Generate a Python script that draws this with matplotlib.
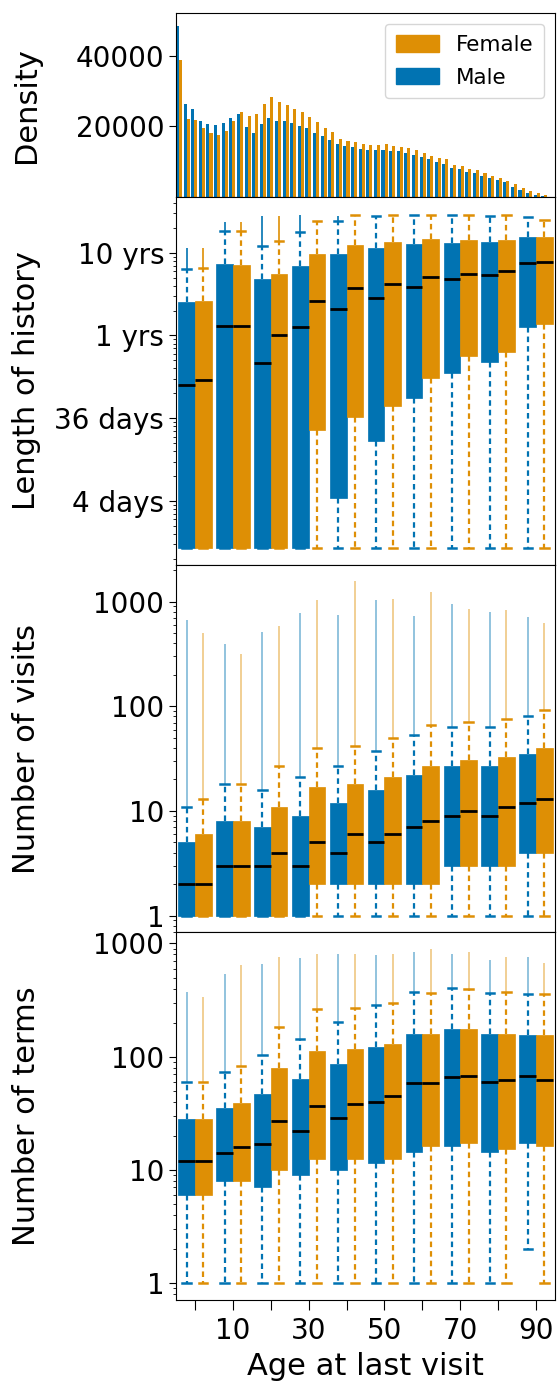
import numpy as np
import matplotlib
matplotlib.use("Agg")
import matplotlib.pyplot as plt
from matplotlib.patches import Patch
from matplotlib.ticker import NullFormatter

BLUE = "#0173b2"
ORANGE = "#de8f05"

# ---- top panel: age histogram (2-year bins) ----
bin_edges = np.arange(0, 101, 2)
male_counts = [48300, 26300, 24950, 21650, 20550, 20350, 21100, 22400, 23600, 19900,
               18150, 20650, 22450, 21550, 21450, 21100, 20250, 19550, 18250, 17250,
               16150, 14950, 14400, 14300, 13550, 13200, 13200, 13200, 13100, 12900,
               12450, 12000, 11250, 10900, 9950, 9500, 8300, 8050, 7150, 6950,
               6050, 5300, 4950, 4200, 2800, 1900, 1150, 500, 200, 0]
female_counts = [38900, 22200, 21800, 19600, 18250, 17700, 18600, 21450, 24000, 22900,
                 23600, 26300, 28250, 26900, 26150, 25050, 24000, 22550, 21200, 19550,
                 18450, 16500, 15850, 15600, 15050, 14750, 14750, 14950, 14550, 14300,
                 13850, 13400, 12450, 11550, 11100, 10650, 9000, 8800, 7900, 7700,
                 6800, 6050, 5400, 4650, 3750, 2650, 1700, 1150, 500, 150]

# ---- age groups for the box plots ----
age_groups = [0, 10, 20, 30, 40, 50, 60, 70, 80, 90]
xtick_labels = ["", "10", "", "30", "", "50", "", "70", "", "90"]

# length of history, in years
hist_m_lo = [0.0027] * 10
hist_m_q1 = [0.0027, 0.0027, 0.0027, 0.0027, 0.0108, 0.053, 0.177, 0.355, 0.48, 1.28]
hist_m_med = [0.25, 1.3, 0.46, 1.26, 2.1, 2.8, 3.9, 4.8, 5.4, 7.5]
hist_m_q3 = [2.57, 7.3, 4.8, 7.0, 9.6, 11.3, 12.8, 13.2, 13.3, 15.5]
hist_m_hi = [6.35, 18.4, 12.1, 17.6, 23.9, 27.9, 28.7, 28.7, 27.9, 26.7]
hist_m_fmax = [11.4, 23.2, 27.9, 28.7, 27.9, np.nan, np.nan, np.nan, np.nan, np.nan]
hist_f_lo = [0.0027] * 10
hist_f_q1 = [0.0027, 0.0027, 0.0027, 0.073, 0.104, 0.141, 0.31, 0.56, 0.64, 1.36]
hist_f_med = [0.29, 1.29, 1.0, 2.64, 3.7, 4.15, 5.1, 5.6, 6.0, 7.65]
hist_f_q3 = [2.64, 7.2, 5.5, 9.6, 12.5, 13.3, 14.8, 14.4, 14.1, 15.5]
hist_f_hi = [6.5, 18.1, 13.7, 23.9, 28.7, 28.7, 28.7, 28.7, 28.7, 25.0]
hist_f_fmax = [11.4, 23.2, 27.9, np.nan, np.nan, np.nan, np.nan, np.nan, np.nan, np.nan]

# number of visits
visit_m_lo = [1] * 10
visit_m_q1 = [1, 1, 1, 1, 2, 2, 2, 3, 3, 4]
visit_m_med = [2, 3, 3, 3, 4, 5, 7, 9, 9, 12]
visit_m_q3 = [5, 8, 7, 9, 12, 16, 22, 27, 27, 35]
visit_m_hi = [11, 18, 16, 21, 27, 37, 53, 63, 63, 81]
visit_m_fmax = [675, 390, 512, 782, 753, 1033, 738, 960, 793, 716]
visit_f_lo = [1] * 10
visit_f_q1 = [1, 1, 1, 2, 2, 2, 2, 3, 3, 4]
visit_f_med = [2, 3, 4, 5, 6, 6, 8, 10, 11, 13]
visit_f_q3 = [6, 8, 11, 17, 18, 21, 27, 31, 33, 40]
visit_f_hi = [13, 18, 27, 40, 42, 50, 66, 71, 76, 92]
visit_f_fmax = [497, 313, 583, 1033, 1566, 1071, 1239, 860, 828, 628]

# number of terms
term_m_lo = [1, 1, 1, 1, 1, 1, 1, 1, 1, 2]
term_m_q1 = [6, 8, 7, 9, 10, 11.6, 14.5, 16.3, 14.5, 17.2]
term_m_med = [12, 14, 17, 22, 29, 40, 58, 66, 60, 67]
term_m_q3 = [28, 35, 47, 64, 87, 123, 159, 174, 159, 154]
term_m_hi = [60, 74, 104, 144, 202, 288, 372, 404, 367, 355]
term_m_fmax = [372, 542, 664, 737, 804, 787, 843, 815, 711, 761]
term_f_lo = [1] * 10
term_f_q1 = [6, 8, 10, 12.4, 12.4, 12.4, 16.3, 17.2, 15.4, 16.3]
term_f_med = [12, 16, 27, 37, 38, 45, 59, 67, 62, 62]
term_f_q3 = [28, 39, 79, 113, 117, 129, 159, 174, 159, 154]
term_f_hi = [60, 83, 182, 262, 269, 300, 367, 399, 372, 355]
term_f_fmax = [336, 643, 752, 804, 804, 815, 902, 843, 761, 678]

TICK_FS = 20
LABEL_FS = 22
BOX_W = 4.4


def make_stats(lo, q1, med, q3, hi):
    return [dict(whislo=a, q1=b, med=c, q3=d, whishi=e, fliers=[])
            for a, b, c, d, e in zip(lo, q1, med, q3, hi)]


def draw_boxes(ax, stats, positions, color, fmax, hi, flier_alpha):
    ax.bxp(stats, positions=positions, widths=BOX_W, patch_artist=True,
           showfliers=False, manage_ticks=False,
           boxprops=dict(facecolor=color, edgecolor=color, linewidth=0.5),
           whiskerprops=dict(color=color, linestyle=(0, (2.5, 1.8)), linewidth=1.6),
           capprops=dict(color=color, linewidth=1.8),
           medianprops=dict(color="black", linewidth=2))
    # outliers are so dense they read as a line
    ax.vlines(positions, hi, fmax, colors=color, linewidth=1.2, alpha=flier_alpha)


def box_panel(ax, male, female, flier_alpha):
    pos_m = [g - BOX_W / 2 for g in age_groups]
    pos_f = [g + BOX_W / 2 for g in age_groups]
    draw_boxes(ax, make_stats(*male[:5]), pos_m, BLUE, male[5], male[4], flier_alpha)
    draw_boxes(ax, make_stats(*female[:5]), pos_f, ORANGE, female[5], female[4], flier_alpha)
    ax.set_yscale("log")
    ax.set_xlim(-5, 95)
    ax.set_xticks(age_groups)
    ax.yaxis.set_minor_formatter(NullFormatter())
    ax.tick_params(labelsize=TICK_FS)
    ax.tick_params(axis="y", which="major", length=5)


fig = plt.figure(figsize=(5.57, 13.83), dpi=100)
gs = fig.add_gridspec(4, 1, height_ratios=[1, 2, 2, 2], hspace=0,
                      left=0.316, right=0.9964, top=0.9904, bottom=0.06)
ax0 = fig.add_subplot(gs[0])
ax1 = fig.add_subplot(gs[1])
ax2 = fig.add_subplot(gs[2])
ax3 = fig.add_subplot(gs[3])

# histogram
bw = bin_edges[1] - bin_edges[0]
left = bin_edges[:-1]
ax0.bar(left + 0.1 * bw, male_counts, width=0.4 * bw, align="edge", color=BLUE)
ax0.bar(left + 0.5 * bw, female_counts, width=0.4 * bw, align="edge", color=ORANGE)
ax0.set_xlim(bin_edges[0] + 0.1 * bw, bin_edges[-1] - 0.1 * bw)
ax0.set_ylim(0, 52000)
ax0.set_yticks([20000, 40000])
ax0.set_yticklabels(["20000", "40000"])
ax0.tick_params(axis="x", bottom=False, labelbottom=False)
ax0.tick_params(labelsize=TICK_FS)
ax0.tick_params(axis="y", length=5)
ax0.set_ylabel("Density", fontsize=LABEL_FS, labelpad=10)
ax0.legend(handles=[Patch(color=ORANGE, label="Female"), Patch(color=BLUE, label="Male")],
           loc="upper right", fontsize=15.5, labelspacing=0.6, handleheight=0.8,
           borderpad=0.5)

# length of history
box_panel(ax1,
          (hist_m_lo, hist_m_q1, hist_m_med, hist_m_q3, hist_m_hi, hist_m_fmax),
          (hist_f_lo, hist_f_q1, hist_f_med, hist_f_q3, hist_f_hi, hist_f_fmax), 1.0)
ax1.set_ylim(0.0017, 47)
ax1.set_yticks([10, 1, 0.1, 0.01])
ax1.set_yticklabels(["10 yrs", "1 yrs", "36 days", "4 days"])
ax1.set_ylabel("Length of history", fontsize=LABEL_FS, labelpad=10)
ax1.tick_params(axis="x", bottom=False, labelbottom=False)

# number of visits
box_panel(ax2,
          (visit_m_lo, visit_m_q1, visit_m_med, visit_m_q3, visit_m_hi, visit_m_fmax),
          (visit_f_lo, visit_f_q1, visit_f_med, visit_f_q3, visit_f_hi, visit_f_fmax), 0.5)
ax2.set_ylim(0.69, 2256)
ax2.set_yticks([1, 10, 100, 1000])
ax2.set_yticklabels(["1", "10", "100", "1000"])
ax2.set_ylabel("Number of visits", fontsize=LABEL_FS, labelpad=10)
ax2.tick_params(axis="x", bottom=False, labelbottom=False)

# number of terms
box_panel(ax3,
          (term_m_lo, term_m_q1, term_m_med, term_m_q3, term_m_hi, term_m_fmax),
          (term_f_lo, term_f_q1, term_f_med, term_f_q3, term_f_hi, term_f_fmax), 0.5)
ax3.set_ylim(0.71, 1253)
ax3.set_yticks([1, 10, 100, 1000])
ax3.set_yticklabels(["1", "10", "100", "1000"])
ax3.set_ylabel("Number of terms", fontsize=LABEL_FS, labelpad=10)
ax3.set_xticklabels(xtick_labels)
ax3.tick_params(axis="x", length=7, pad=5)
ax3.set_xlabel("Age at last visit", fontsize=LABEL_FS, labelpad=5)

fig.align_ylabels([ax0, ax1, ax2, ax3])
fig.savefig("out.png", dpi=100)
